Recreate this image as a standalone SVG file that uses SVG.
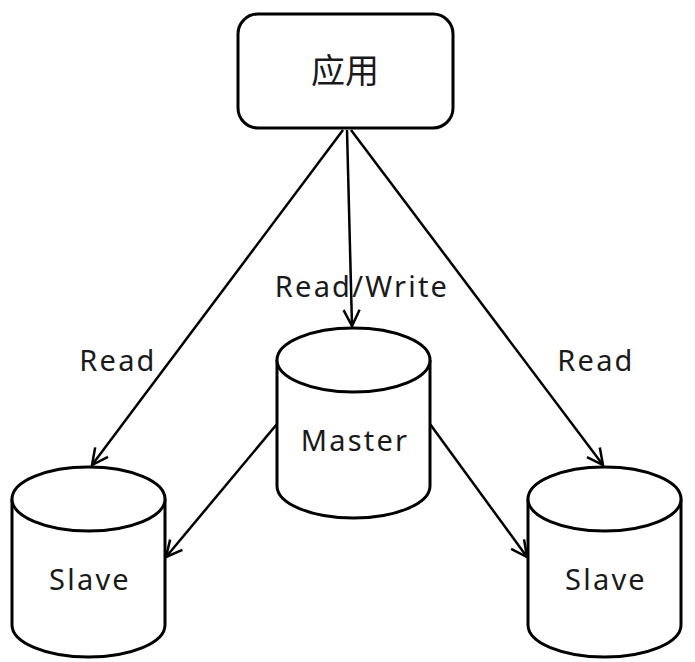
<svg xmlns="http://www.w3.org/2000/svg" width="695" height="662" viewBox="0 0 695 662">
<style>
.s{fill:#fff;stroke:#000;stroke-width:3}
.c{fill:none;stroke:#000;stroke-width:2.5}
.t{font-family:"Noto Sans","Open Sans","Noto Sans CJK SC",sans-serif;font-size:29px;letter-spacing:2.2px;fill:#1a1a1a;text-anchor:middle}
</style>
<defs>
<marker id="a" viewBox="0 0 20 20" refX="18" refY="10" markerWidth="20" markerHeight="20" markerUnits="userSpaceOnUse" orient="auto">
<path d="M2,2 L18,10 L2,18" fill="none" stroke="#000" stroke-width="2.5"/>
</marker>
</defs>
<rect width="695" height="662" fill="#fff"/>
<g id="connectors">
<line class="c" x1="343" y1="130" x2="92" y2="465" marker-end="url(#a)"/>
<line class="c" x1="347" y1="130" x2="352" y2="326" marker-end="url(#a)"/>
<line class="c" x1="351" y1="130" x2="603" y2="465" marker-end="url(#a)"/>
<line class="c" x1="277" y1="424" x2="166" y2="557" marker-end="url(#a)"/>
<line class="c" x1="430" y1="424" x2="527" y2="557" marker-end="url(#a)"/>
</g>
<g id="app">
<rect class="s" x="238" y="14" width="215" height="114" rx="20"/>
<text class="t" x="345" y="83" style="font-size:34px;letter-spacing:0">应用</text>
</g>
<g id="master">
<path class="s" d="M277,360 L277,486 A76.5,32 0 0 0 430,486 L430,360"/>
<ellipse class="s" cx="353.5" cy="360" rx="76.5" ry="32"/>
<text class="t" x="355" y="451">Master</text>
</g>
<g id="slave-left">
<path class="s" d="M12,499 L12,625 A76.5,32 0 0 0 165,625 L165,499"/>
<ellipse class="s" cx="88.5" cy="499" rx="76.5" ry="32"/>
<text class="t" x="90" y="590">Slave</text>
</g>
<g id="slave-right">
<path class="s" d="M528,499 L528,625 A76.5,32 0 0 0 681,625 L681,499"/>
<ellipse class="s" cx="604.5" cy="499" rx="76.5" ry="32"/>
<text class="t" x="606" y="590">Slave</text>
</g>
<g id="labels">
<text class="t" x="362" y="297">Read/Write</text>
<text class="t" x="118" y="371">Read</text>
<text class="t" x="596" y="371">Read</text>
</g>
</svg>
